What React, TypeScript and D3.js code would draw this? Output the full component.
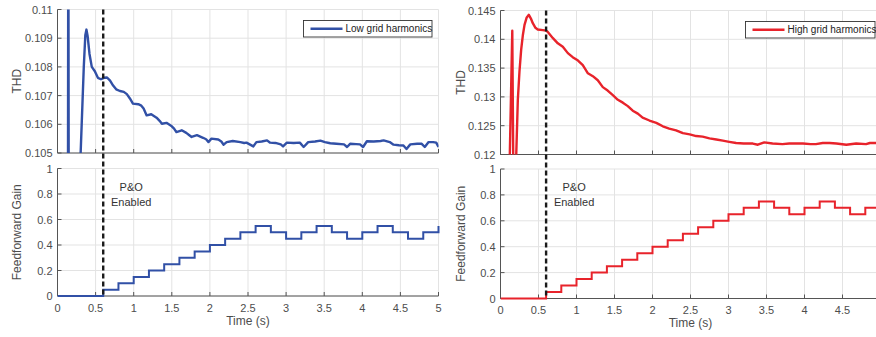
import React from "react";
import * as d3 from "d3";

// THD, low grid harmonics (time s, THD)
const lowThdT = [0.135, 0.142, 0.15, 0.29, 0.345, 0.365, 0.38, 0.395, 0.42, 0.45, 0.49, 0.53, 0.57, 0.61, 0.65, 0.69, 0.73, 0.77, 0.82, 0.87, 0.91, 0.95, 0.99, 1.06, 1.1, 1.13, 1.17, 1.23, 1.3, 1.34, 1.37, 1.43, 1.5, 1.53, 1.56, 1.63, 1.69, 1.73, 1.76, 1.83, 1.91, 1.95, 1.98, 2.02, 2.11, 2.15, 2.18, 2.22, 2.3, 2.4, 2.45, 2.48, 2.57, 2.61, 2.68, 2.75, 2.79, 2.86, 2.93, 2.96, 3.01, 3.1, 3.18, 3.23, 3.29, 3.38, 3.45, 3.51, 3.58, 3.66, 3.76, 3.8, 3.84, 3.92, 3.97, 4.01, 4.06, 4.15, 4.24, 4.28, 4.36, 4.41, 4.48, 4.54, 4.58, 4.63, 4.72, 4.78, 4.82, 4.87, 4.93, 4.97, 5.0];
const lowThdV = [0.098, 0.115, 0.098, 0.104, 0.108, 0.1091, 0.1093, 0.10908, 0.10845, 0.108, 0.10785, 0.10762, 0.10757, 0.10762, 0.10763, 0.10752, 0.10735, 0.10722, 0.10716, 0.10713, 0.10705, 0.1069, 0.10672, 0.1067, 0.10665, 0.10655, 0.10631, 0.10635, 0.10623, 0.10612, 0.10602, 0.10605, 0.10593, 0.10585, 0.10573, 0.10579, 0.1057, 0.10562, 0.10556, 0.10562, 0.10553, 0.10548, 0.10538, 0.1055, 0.10547, 0.1054, 0.10529, 0.10538, 0.10542, 0.10538, 0.10535, 0.10536, 0.10523, 0.10538, 0.1054, 0.10544, 0.10536, 0.10535, 0.1053, 0.10523, 0.10536, 0.10535, 0.10536, 0.10521, 0.10538, 0.1054, 0.10543, 0.10538, 0.10534, 0.10532, 0.1053, 0.10521, 0.10532, 0.10531, 0.1053, 0.10521, 0.10541, 0.1054, 0.10542, 0.10544, 0.10538, 0.10529, 0.10527, 0.10526, 0.10514, 0.1053, 0.10532, 0.10532, 0.10521, 0.10538, 0.10538, 0.10536, 0.10521];

// THD, high grid harmonics
const highThdT = [0.115, 0.155, 0.17, 0.19, 0.228, 0.25, 0.272, 0.295, 0.316, 0.345, 0.373, 0.4, 0.425, 0.46, 0.49, 0.557, 0.6, 0.62, 0.69, 0.754, 0.82, 0.886, 0.95, 1.02, 1.083, 1.15, 1.215, 1.28, 1.346, 1.41, 1.478, 1.544, 1.61, 1.675, 1.74, 1.807, 1.87, 1.96, 2.05, 2.136, 2.22, 2.31, 2.4, 2.49, 2.575, 2.66, 2.75, 2.84, 2.925, 3.01, 3.1, 3.2, 3.32, 3.386, 3.47, 3.58, 3.71, 3.8, 3.98, 4.08, 4.15, 4.24, 4.33, 4.42, 4.55, 4.68, 4.81, 4.86, 4.95];
const highThdV = [0.115, 0.1415, 0.115, 0.112, 0.1295, 0.1345, 0.1382, 0.1408, 0.1425, 0.1438, 0.14425, 0.1436, 0.1428, 0.142, 0.1417, 0.1416, 0.1415, 0.1413, 0.1402, 0.1393, 0.1387, 0.1376, 0.1369, 0.1363, 0.1355, 0.1341, 0.1336, 0.1329, 0.1317, 0.1311, 0.1303, 0.1295, 0.129, 0.1284, 0.1276, 0.1271, 0.1264, 0.1259, 0.1255, 0.1249, 0.1245, 0.1242, 0.1237, 0.1235, 0.1232, 0.1231, 0.1228, 0.1226, 0.1224, 0.1222, 0.122, 0.1219, 0.1219, 0.1217, 0.1221, 0.1219, 0.1218, 0.1219, 0.1219, 0.1218, 0.1218, 0.122, 0.122, 0.1219, 0.1217, 0.1219, 0.1218, 0.122, 0.122];

// feedforward gain steps (P&O every 0.2 s)
const gainT = [0, 0.6, 0.8, 1.0, 1.2, 1.4, 1.6, 1.8, 2.0, 2.2, 2.4, 2.6, 2.8, 3.0, 3.2, 3.4, 3.6, 3.8, 4.0, 4.2, 4.4, 4.6, 4.8, 5.0];
const lowGain = [0, 0.05, 0.1, 0.15, 0.2, 0.25, 0.3, 0.35, 0.4, 0.45, 0.5, 0.55, 0.5, 0.45, 0.5, 0.55, 0.5, 0.45, 0.5, 0.55, 0.5, 0.45, 0.5, 0.55];
const highGain = [0, 0.05, 0.1, 0.15, 0.2, 0.25, 0.3, 0.35, 0.4, 0.45, 0.5, 0.55, 0.6, 0.65, 0.7, 0.75, 0.7, 0.65, 0.7, 0.75, 0.7, 0.65, 0.7, 0.7];

const xTicks = [0, 0.5, 1, 1.5, 2, 2.5, 3, 3.5, 4, 4.5, 5];
const lowThdTicks = [0.105, 0.106, 0.107, 0.108, 0.109, 0.11];
const highThdTicks = [0.12, 0.125, 0.13, 0.135, 0.14, 0.145];
const gainTicks = [0, 0.2, 0.4, 0.6, 0.8, 1];
const pnoTime = 0.6;

const FONT = "'Liberation Sans', Arial, Helvetica, sans-serif";
const AXIS = "#555";
const TXT = "#4d4d4d";
const GRID = "#e3e3e3";

type Cfg = {
  id: string;
  x0: number;
  x1: number;
  xMax: number;
  top: [number, number];
  bot: [number, number];
  thdDomain: [number, number];
  thdTicks: number[];
  thdT: number[];
  thdV: number[];
  gain: number[];
  color: string;
  label: string;
  legend: { x: number; y: number; w: number; h: number };
  ylabX: number;
  tickY: number;
  timeY: number;
};

const Panel = ({ c }: { c: Cfg }) => {
  const x = d3.scaleLinear().domain([0, c.xMax]).range([c.x0, c.x1]);
  const yT = d3.scaleLinear().domain(c.thdDomain).range(c.top);
  const yB = d3.scaleLinear().domain([0, 1]).range(c.bot);
  const ticks = xTicks.filter((t) => t <= c.xMax);

  const thdLine = d3
    .line<number>()
    .x((_, i) => x(c.thdT[i]))
    .y((v) => yT(v))(c.thdV) as string;
  const gainLine = d3
    .line<number>()
    .x((_, i) => x(gainT[i]))
    .y((v) => yB(v))
    .curve(d3.curveStepAfter)(c.gain) as string;

  const fmt = (v: number) => String(+v.toFixed(3));

  const axes = (y: d3.ScaleLinear<number, number>, yt: number[], labels: boolean) => {
    const [yb, ytop] = y.range();
    return (
      <g>
        {ticks.map((t) => (
          <line key={"gx" + t} x1={x(t)} x2={x(t)} y1={yb} y2={ytop} stroke={GRID} />
        ))}
        {yt.map((t) => (
          <line key={"gy" + t} x1={c.x0} x2={c.x1} y1={y(t)} y2={y(t)} stroke={GRID} />
        ))}
        <line x1={c.x0} x2={c.x1} y1={yb} y2={yb} stroke={AXIS} />
        <line x1={c.x0} x2={c.x0} y1={yb} y2={ytop} stroke={AXIS} />
        {ticks.map((t) => (
          <line key={"tx" + t} x1={x(t)} x2={x(t)} y1={yb} y2={yb - 4} stroke={AXIS} />
        ))}
        {yt.map((t) => (
          <g key={"ty" + t}>
            <line x1={c.x0} x2={c.x0 + 4} y1={y(t)} y2={y(t)} stroke={AXIS} />
            <text x={c.x0 - 5} y={y(t) + 4} textAnchor="end" fontSize={11} fill={TXT}>
              {fmt(t)}
            </text>
          </g>
        ))}
        {labels &&
          ticks.map((t) => (
            <text key={"lx" + t} x={x(t)} y={c.tickY} textAnchor="middle" fontSize={11} fill={TXT}>
              {fmt(t)}
            </text>
          ))}
      </g>
    );
  };

  const { legend: L } = c;
  return (
    <g fontFamily={FONT}>
      <defs>
        <clipPath id={c.id + "-clipT"}>
          <rect x={c.x0} y={c.top[1]} width={c.x1 - c.x0} height={c.top[0] - c.top[1]} />
        </clipPath>
        <clipPath id={c.id + "-clipB"}>
          <rect x={c.x0} y={c.bot[1] - 2} width={c.x1 - c.x0 + 2} height={c.bot[0] - c.bot[1] + 4} />
        </clipPath>
      </defs>
      {axes(yT, c.thdTicks, false)}
      {axes(yB, gainTicks, true)}
      <path d={thdLine} fill="none" stroke={c.color} strokeWidth={2.4} strokeLinejoin="round" clipPath={`url(#${c.id}-clipT)`} />
      <path d={gainLine} fill="none" stroke={c.color} strokeWidth={2} clipPath={`url(#${c.id}-clipB)`} />
      <line
        x1={x(pnoTime)}
        x2={x(pnoTime)}
        y1={c.top[1]}
        y2={c.bot[0]}
        stroke="#1a1a1a"
        strokeWidth={2.4}
        strokeDasharray="5,3"
      />
      <text x={x(pnoTime) + 28} y={c.bot[1] + 22} textAnchor="middle" fontSize={11} fill="#333">
        P&amp;O
      </text>
      <text x={x(pnoTime) + 28} y={c.bot[1] + 37} textAnchor="middle" fontSize={11} fill="#333">
        Enabled
      </text>
      <rect x={L.x} y={L.y} width={L.w} height={L.h} fill="#fff" stroke="#333" strokeWidth={0.9} />
      <line x1={L.x + 7} x2={L.x + 39} y1={L.y + L.h / 2} y2={L.y + L.h / 2} stroke={c.color} strokeWidth={2.4} />
      <text x={L.x + 42} y={L.y + L.h / 2 + 3.5} fontSize={10} fill="#222">
        {c.label}
      </text>
      <text
        transform={`translate(${c.ylabX},${(c.top[0] + c.top[1]) / 2}) rotate(-90)`}
        textAnchor="middle"
        fontSize={12}
        fill={TXT}
      >
        THD
      </text>
      <text
        transform={`translate(${c.ylabX},${(c.bot[0] + c.bot[1]) / 2}) rotate(-90)`}
        textAnchor="middle"
        fontSize={12}
        fill={TXT}
      >
        Feedforward Gain
      </text>
      <text x={(c.x0 + x(5)) / 2} y={c.timeY} textAnchor="middle" fontSize={12} fill={TXT}>
        Time (s)
      </text>
    </g>
  );
};

const left: Cfg = {
  id: "low",
  x0: 57.5,
  x1: 438.5,
  xMax: 5,
  top: [153, 9.5],
  bot: [296, 168.5],
  thdDomain: [0.105, 0.11],
  thdTicks: lowThdTicks,
  thdT: lowThdT,
  thdV: lowThdV,
  gain: lowGain,
  color: "#3150a6",
  label: "Low grid harmonics",
  legend: { x: 303.5, y: 20.5, w: 128.5, h: 16.5 },
  ylabX: 21,
  tickY: 312,
  timeY: 325,
};

const right: Cfg = {
  id: "high",
  x0: 500.5,
  x1: 876.7,
  xMax: 4.95,
  top: [154.5, 10.5],
  bot: [298.5, 169],
  thdDomain: [0.12, 0.145],
  thdTicks: highThdTicks,
  thdT: highThdT,
  thdV: highThdV,
  gain: highGain,
  color: "#e8232b",
  label: "High grid harmonics",
  legend: { x: 745.5, y: 21.5, w: 129.5, h: 16.5 },
  ylabX: 464.5,
  tickY: 314,
  timeY: 327,
};

export default function App() {
  return (
    <svg
      width={876}
      height={337}
      style={{ position: "absolute", left: 0, top: 0, background: "#fff" }}
    >
      <Panel c={left} />
      <Panel c={right} />
    </svg>
  );
}
